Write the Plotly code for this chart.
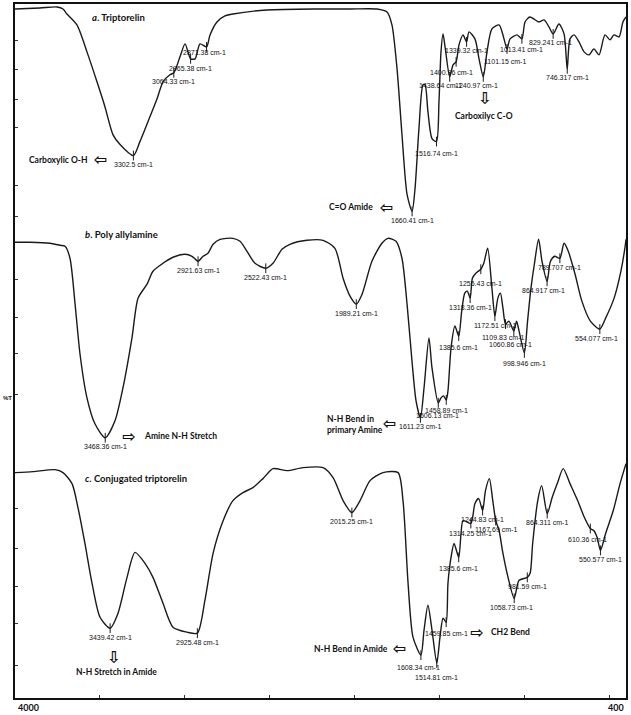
import plotly.graph_objects as go

# ---------------- data (wavenumber cm-1, stacked %T in chart units) ----------------
wn_a = [4000, 3853, 3752, 3717, 3694, 3635, 3576, 3517, 3470, 3423, 3381, 3302.5, 3264, 3205, 3163,
        3128, 3087, 3064.33, 3028, 2998, 2965.38, 2939, 2910, 2871.38, 2851, 2810, 2763, 2716, 2515,
        2203, 2026, 1867, 1808, 1779, 1749, 1720, 1690, 1660.41, 1643, 1620, 1596, 1584, 1567, 1543,
        1516.74, 1502, 1490, 1478, 1466, 1438.64, 1419, 1400.96, 1384, 1360, 1339.32, 1325, 1290,
        1266, 1240.97, 1219, 1190, 1148, 1125, 1101.15, 1083, 1042, 1013.41, 995, 966, 913, 883, 854,
        829.241, 795, 765, 746.317, 730, 706, 677, 647, 618, 589, 559, 524, 494, 471, 441, 418, 400]
t_a = [691, 692, 693, 691, 686, 675, 648, 618, 593, 565, 555, 544, 558, 583, 601,
       618, 625, 627, 643, 656, 641, 641, 656, 653, 665, 678, 684, 686, 690,
       691, 691, 691, 688, 675, 631, 565, 505, 488, 511, 571, 615, 615, 588, 561,
       558, 598, 648, 666, 653, 623, 635, 638, 655, 665, 658, 668, 661,
       641, 623, 648, 671, 675, 665, 651, 661, 665, 661, 678, 683, 678, 680, 673,
       666, 676, 666, 631, 661, 665, 658, 648, 645, 651, 645, 665, 660, 665, 663, 678, 683]

wn_b = [4000, 3912, 3794, 3735, 3705, 3676, 3646, 3617, 3576, 3529, 3468.36, 3411, 3364, 3311, 3275,
        3222, 3187, 3128, 3069, 2998, 2957, 2921.63, 2892, 2863, 2833, 2792, 2716, 2674, 2633, 2586,
        2522.43, 2480, 2427, 2380, 2280, 2185, 2115, 2067, 2026, 1989.21, 1955, 1897, 1838, 1802,
        1755, 1720, 1690, 1661, 1637, 1611.23, 1590, 1561, 1543, 1506.13, 1490, 1475, 1458.89, 1449,
        1431, 1408, 1385.6, 1368, 1350, 1335, 1318.36, 1305, 1285, 1255.43, 1238, 1215, 1190,
        1172.51, 1155, 1140, 1125, 1109.83, 1090, 1060.86, 1045, 1030, 998.946, 980, 960, 940, 915,
        895, 864.917, 845, 820, 789.707, 765, 740, 700, 660, 610, 554.077, 520, 470, 430, 405, 400]
t_b = [457, 457, 456, 454, 453, 441, 395, 345, 301, 275, 261, 278, 311, 361, 401,
       415, 428, 436, 442, 445, 443, 438, 443, 446, 455, 460, 461, 458, 448, 436,
       431, 436, 450, 455, 459, 459, 451, 421, 403, 395, 405, 438, 456, 461,
       458, 441, 395, 338, 298, 281, 311, 361, 331, 296, 301, 303, 299, 308,
       351, 373, 363, 388, 406, 408, 401, 421, 426, 430, 436, 451, 411,
       383, 401, 406, 391, 375, 378, 368, 378, 368, 346, 378, 411, 435, 460,
       438, 418, 438, 443, 441, 456, 448, 425, 398, 378, 370, 381, 401, 428, 453, 460]

wn_c = [4000, 3894, 3764, 3717, 3664, 3629, 3588, 3546, 3499, 3439.42, 3393, 3340, 3293, 3234, 3187,
        3128, 3069, 2987, 2925.48, 2881, 2833, 2780, 2716, 2657, 2598, 2539, 2480, 2397, 2303, 2185,
        2126, 2067, 2015.25, 1967, 1908, 1832, 1743, 1714, 1684, 1655, 1608.34, 1590, 1567, 1543,
        1514.81, 1496, 1478, 1459.85, 1449, 1431, 1413, 1385.6, 1372, 1360, 1314.25, 1290, 1268,
        1244.83, 1228, 1205, 1185, 1167.69, 1148, 1125, 1095, 1058.73, 1030, 981.59, 965, 950, 920,
        897, 864.311, 835, 805, 770, 730, 685, 645, 610.36, 590, 570, 550.577, 520, 475, 435, 400]
t_c = [226, 227, 229, 226, 215, 191, 155, 115, 81, 70, 85, 121, 146, 135, 121,
       95, 71, 66, 65, 98, 145, 175, 198, 206, 211, 220, 230, 228, 231, 231,
       221, 198, 186, 198, 218, 226, 226, 198, 115, 61, 43, 68, 93, 68,
       35, 61, 80, 76, 115, 141, 155, 141, 165, 178, 175, 195, 200,
       188, 208, 220, 198, 178, 168, 145, 121, 100, 118, 121, 125, 155, 198,
       213, 185, 201, 215, 230, 215, 198, 181, 170, 168, 161, 148, 165, 188, 215, 235]

names = ["<b><i>a</i>. Triptorelin</b>", "<b><i>b</i>. Poly allylamine</b>",
         "<b><i>c</i>. Conjugated triptorelin</b>"]

peaks_a = ["3302.5", "3064.33", "2965.38", "2871.38", "1660.41", "1516.74", "1438.64", "1400.96",
           "1339.32", "1240.97", "1101.15", "1013.41", "829.241", "746.317"]
peaks_b = ["3468.36", "2921.63", "2522.43", "1989.21", "1611.23", "1506.13", "1458.89", "1385.6",
           "1318.36", "1255.43", "1172.51", "1109.83", "1060.86", "998.946", "864.917", "789.707",
           "554.077"]
peaks_c = ["3439.42", "2925.48", "2015.25", "1608.34", "1514.81", "1459.85", "1385.6", "1314.25",
           "1244.83", "1167.69", "1058.73", "981.59", "864.311", "610.36", "550.577"]

x_ticks = [3500, 3000, 2500, 2000, 1500, 1000, 500]
y_ticks = [659, 630, 600, 572, 514, 483, 420, 382, 345, 304, 190, 150, 112, 75, 33]

# ---------------- figure ----------------
W, H = 631, 715
ML, MR, MT, MB = 15, 5, 2, 17
XMAX, XMIN = 4000, 400
YMAX = H - MT - MB


def px2wn(px):
    return XMAX - (px - ML) * (XMAX - XMIN) / (W - ML - MR)


def py2v(py):
    return (H - MB) - py


fig = go.Figure()
LINE = dict(color="#1a1a1a", width=1.4, shape="spline", smoothing=0.7)
for wn, t in [(wn_a, t_a), (wn_b, t_b), (wn_c, t_c)]:
    fig.add_trace(go.Scatter(x=wn, y=t, mode="lines", line=LINE, hoverinfo="skip", showlegend=False))

label_font = dict(family="Liberation Sans Narrow, Liberation Sans, Arial", size=7, color="#111")
xshift = {"2871.38": -2, "1438.64": -9, "1400.96": -5, "1240.97": -7, "829.241": -3,
          "1506.13": -1, "1101.15": -2, "1109.83": -3, "1060.86": -3, "864.917": -4,
          "610.36": -3, "1608.34": -2, "1058.73": -3, "554.077": -3}
yshift = {"1101.15": -13, "1516.74": -12, "1400.96": -11, "1013.41": -11, "1506.13": -13,
          "1458.89": -11, "1385.6": -11, "1109.83": -13, "1060.86": -13, "998.946": -11,
          "1608.34": -12, "1514.81": -14, "1459.85": -11, "610.36": -11, "2871.38": -6,
          "2965.38": -10, "1244.83": -9, "1255.43": -14, "1314.25": -10}

for wn, t, peaks in [(wn_a, t_a, peaks_a), (wn_b, t_b, peaks_b), (wn_c, t_c, peaks_c)]:
    px, pv = [], []
    for p in peaks:
        v = t[wn.index(float(p))]
        px.append(float(p))
        pv.append(v)
        fig.add_annotation(x=float(p), y=v, text=f"{p} cm-1", showarrow=False,
                           font=label_font, xanchor="center", yanchor="middle",
                           xshift=xshift.get(p, 0), yshift=yshift.get(p, -9))
    fig.add_trace(go.Scatter(x=px, y=pv, mode="markers", hoverinfo="skip", showlegend=False,
                             marker=dict(symbol="line-ns", size=7,
                                         line=dict(color="#1a1a1a", width=1))))

# spectrum titles
title_font = dict(family="Lato, Open Sans, sans-serif", size=9.5, color="#111")
for txt, (cx, cy) in zip(names, [(118, 16), (121, 233), (136, 478)]):
    fig.add_annotation(x=px2wn(cx), y=py2v(cy), text=txt, showarrow=False, font=title_font,
                       xanchor="center", yanchor="middle")

# assignment notes with hollow arrows
note_font = dict(family="Lato, Open Sans, sans-serif", size=8.5, color="#111")
arrow_font = dict(family="DejaVu Sans", size=16, color="#111")
notes = [
    ("<b>Carboxylic O-H</b>", 58, 158, "center"),
    ("<b>C=O Amide</b>", 351, 206, "center"),
    ("<b>Carboxilyc C-O</b>", 484, 114, "center"),
    ("<b>Amine N-H Stretch</b>", 180, 435, "center"),
    ("<b>N-H Bend in<br>primary Amine</b>", 325, 424, "left"),
    ("<b>N-H Stretch in Amide</b>", 116, 672, "center"),
    ("<b>N-H Bend in Amide</b>", 351, 649, "center"),
    ("<b>CH2 Bend</b>", 510, 632, "center"),
]
for txt, cx, cy, anchor in notes:
    fig.add_annotation(x=px2wn(cx), y=py2v(cy), text=txt, showarrow=False, font=note_font,
                       xanchor=anchor, yanchor="middle", align="left")
arrows = [("⇦", 100, 158), ("⇦", 386, 206), ("⇩", 484, 97), ("⇨", 128, 436),
          ("⇦", 389, 423), ("⇩", 113, 657), ("⇦", 399, 648), ("⇨", 476, 632)]
for sym, cx, cy in arrows:
    fig.add_annotation(x=px2wn(cx), y=py2v(cy), text=f"<b>{sym}</b>", showarrow=False,
                       font=arrow_font, xanchor="center", yanchor="middle")

# axis end labels and %T
end_font = dict(family="Lato, Open Sans, sans-serif", size=9, color="#111")
fig.add_annotation(xref="paper", yref="paper", x=0, y=0, text="<b>4000</b>", showarrow=False,
                   font=end_font, xanchor="left", yanchor="top", yshift=-2, xshift=1)
fig.add_annotation(xref="paper", yref="paper", x=1, y=0, text="<b>400</b>", showarrow=False,
                   font=end_font, xanchor="right", yanchor="top", yshift=-2)
fig.add_annotation(xref="paper", x=0, y=py2v(397), text="<b>%T</b>", showarrow=False,
                   font=dict(family="Liberation Sans", size=6, color="#111"),
                   xanchor="right", yanchor="middle", xshift=-1)

fig.update_xaxes(range=[XMAX, XMIN], showgrid=False, zeroline=False, showline=True,
                 linecolor="#111", linewidth=1.5, mirror=True, ticks="inside", ticklen=3,
                 tickcolor="#333", tickvals=x_ticks, showticklabels=False)
fig.update_yaxes(range=[0, YMAX], showgrid=False, zeroline=False, showline=True,
                 linecolor="#111", linewidth=1.5, mirror=True, ticks="inside", ticklen=3,
                 tickcolor="#333", tickvals=y_ticks, showticklabels=False)
fig.update_layout(width=W, height=H, margin=dict(l=ML, r=MR, t=MT, b=MB),
                  paper_bgcolor="white", plot_bgcolor="white")
fig.write_html("out.html", config={"displayModeBar": False},
               post_script="document.body.style.margin='0';document.body.style.padding='0';"
                           "document.documentElement.style.overflow='hidden';")
